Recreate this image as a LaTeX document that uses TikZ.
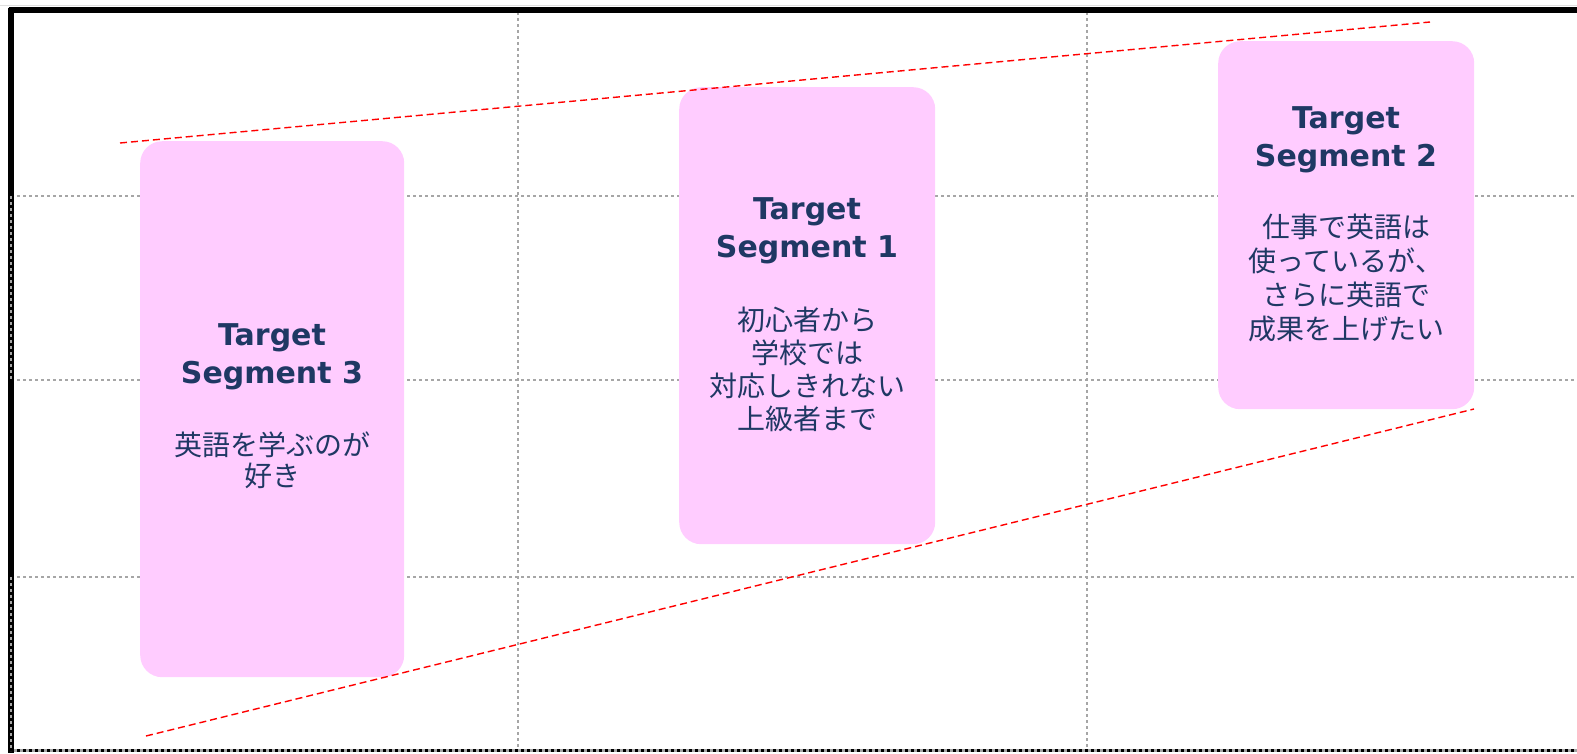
\documentclass[tikz,border=0pt]{standalone}
\usepackage{fontspec}
\newfontfamily\titlefont{DejaVu Sans}
\newfontfamily\jpfont{Noto Sans CJK JP}
\definecolor{boxpink}{HTML}{FFCCFF}
\definecolor{navy}{HTML}{1F3864}
\definecolor{gridgray}{HTML}{A6A6A6}
\tikzset{
  seg/.style={rectangle, rounded corners=22pt, fill=boxpink, draw=none, anchor=north west, inner sep=0pt},
  ttl/.style={font=\titlefont\bfseries\fontsize{30}{38}\selectfont, text=navy, align=center, inner sep=0pt},
  jp/.style={font=\jpfont\fontsize{28}{33}\selectfont, text=navy, align=center, inner sep=0pt},
  gridline/.style={gridgray, line width=2.5pt, dash pattern=on 3pt off 3pt},
  trend/.style={red, line width=1.4pt, dash pattern=on 7pt off 4pt}
}
\begin{document}
\begin{tikzpicture}[x=1pt,y=-1pt]
\useasboundingbox (0,0) rectangle (1577,753);
% grid
\coordinate (h1a) at (11,196); \coordinate (h1b) at (1577,196);
\coordinate (h2a) at (11,380); \coordinate (h2b) at (1577,380);
\coordinate (h3a) at (11,577); \coordinate (h3b) at (1577,577);
\coordinate (v1a) at (518,12); \coordinate (v1b) at (518,751);
\coordinate (v2a) at (1087,12); \coordinate (v2b) at (1087,751);
\draw[gridline] (h1a) -- (h1b);
\draw[gridline] (h2a) -- (h2b);
\draw[gridline] (h3a) -- (h3b);
\draw[gridline] (v1a) -- (v1b);
\draw[gridline] (v2a) -- (v2b);
% frame
\coordinate (tl) at (8.5,10); \coordinate (tr) at (1577,10);
\coordinate (lt) at (11,8); \coordinate (lb) at (11,753);
\coordinate (bl) at (11,750.5); \coordinate (br) at (1577,750.5);
\draw[gray!25, line width=1pt] (0,5) -- (1577,5);
\draw[black, line width=5.5pt] (tl) -- (tr);
\draw[black, line width=5.5pt] (lt) -- (lb);
\draw[gridgray, line width=3pt] (bl) -- (br);
\draw[black, line width=3pt, dash pattern=on 3pt off 3pt] (bl) -- (br);
\draw[gridgray, line width=2pt, dash pattern=on 3pt off 3pt] (11,196) -- (11,380);
\draw[gridgray, line width=2pt, dash pattern=on 3pt off 3pt] (11,577) -- (11,751);
% boxes
\node[seg, minimum width=264pt, minimum height=536pt] (s3) at (140,141) {};
\node[seg, minimum width=256pt, minimum height=457pt] (s1) at (679,87) {};
\node[seg, minimum width=256pt, minimum height=368pt] (s2) at (1218,41) {};
% texts
\node[ttl] (t3) at (272,357) {Target\\Segment 3};
\node[jp, font=\jpfont\fontsize{28}{31}\selectfont] (j3) at (272,460) {英語を学ぶのが\\好き};
\node[ttl] (t1) at (807,231) {Target\\Segment 1};
\node[jp] (j1) at (807,369) {初心者から\\学校では\\対応しきれない\\上級者まで};
\node[ttl] (t2) at (1346,140) {Target\\Segment 2};
\node[jp, font=\jpfont\fontsize{28}{34}\selectfont] (j2) at (1346,278) {仕事で英語は\\使っているが、\\さらに英語で\\成果を上げたい};
% trend lines
\coordinate (ua) at (120,143); \coordinate (ub) at (1430,22);
\coordinate (la) at (146,736); \coordinate (lb2) at (1474,409);
\draw[trend] (ua) -- (ub);
\draw[trend] (la) -- (lb2);
\end{tikzpicture}
\end{document}
